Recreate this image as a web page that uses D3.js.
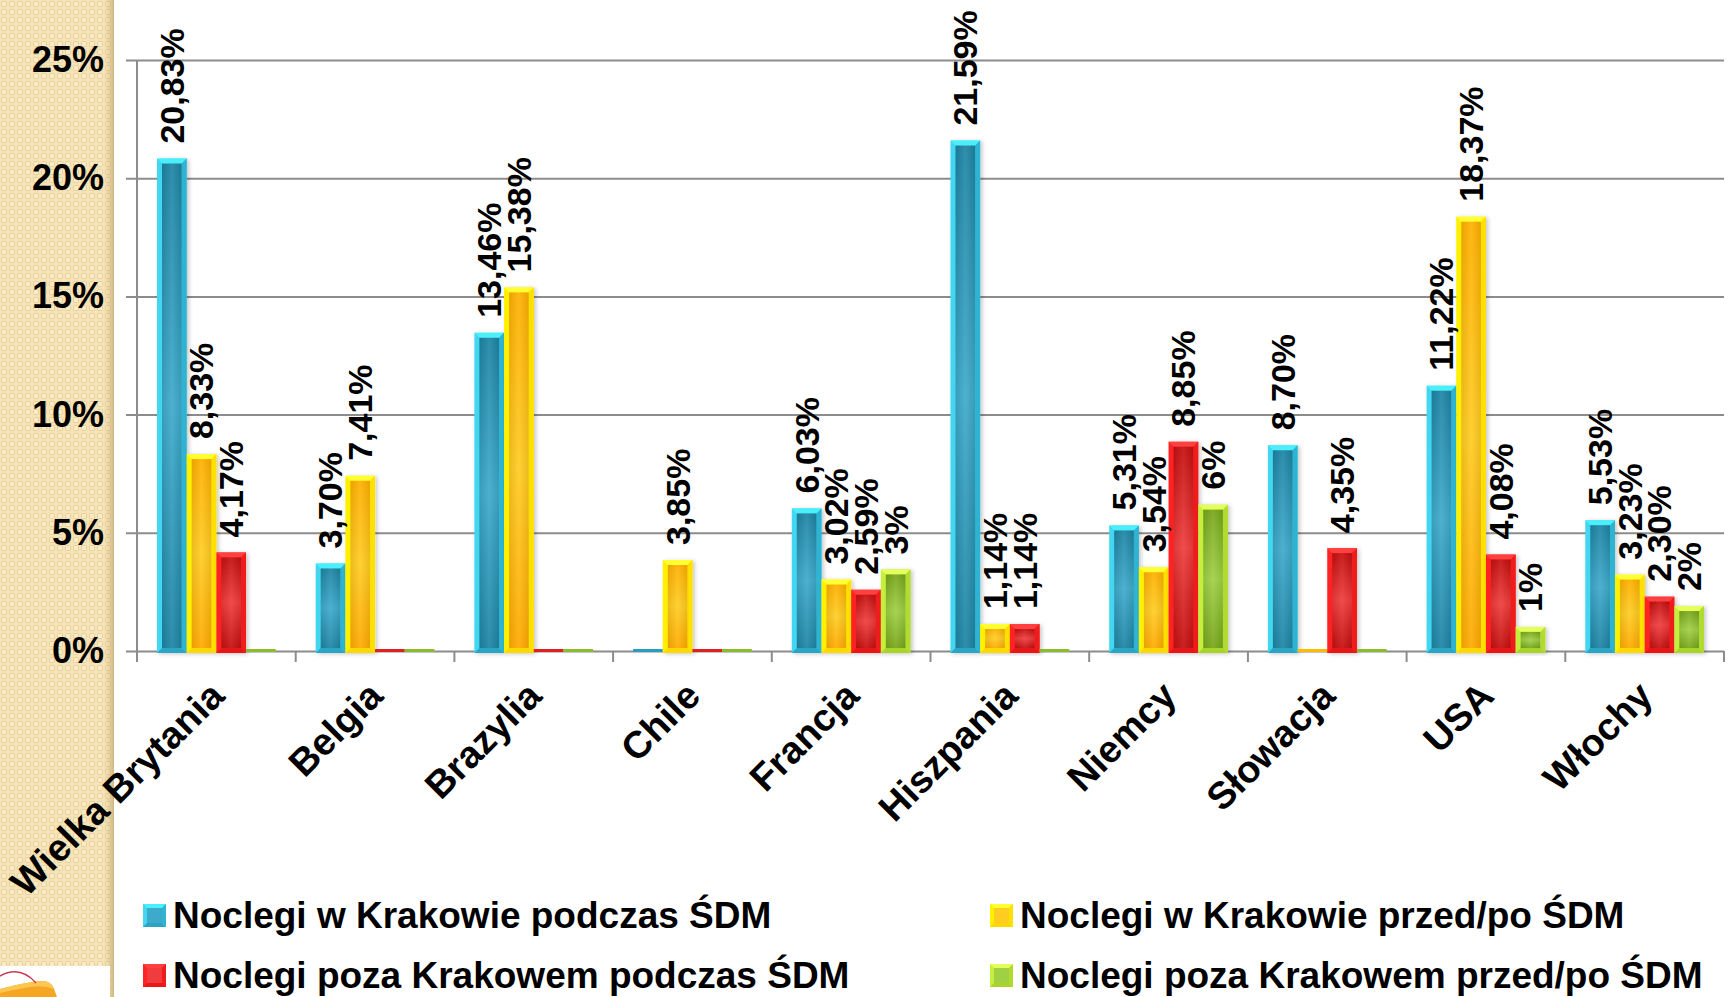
<!DOCTYPE html>
<html>
<head>
<meta charset="utf-8">
<script src="https://cdn.jsdelivr.net/npm/d3@7"></script>
<style>
html,body{margin:0;padding:0;background:#fff;}
svg{display:block;}
text{font-family:"Liberation Sans",Arial,sans-serif;font-weight:bold;fill:#000;}
</style>
</head>
<body>
<script>
const categories = ["Wielka Brytania","Belgia","Brazylia","Chile","Francja","Hiszpania","Niemcy","Słowacja","USA","Włochy"];
const seriesNames = ["Noclegi w Krakowie podczas ŚDM","Noclegi w Krakowie przed/po ŚDM","Noclegi poza Krakowem podczas ŚDM","Noclegi poza Krakowem przed/po ŚDM"];
const inKrakowDuring      = [20.83, 3.70, 13.46, 0,    6.03, 21.59, 5.31, 8.70, 11.22, 5.53];
const inKrakowBeforeAfter = [8.33,  7.41, 15.38, 3.85, 3.02, 1.14,  3.54, 0,    18.37, 3.23];
const outsideDuring       = [4.17,  0,    0,     0,    2.59, 1.14,  8.85, 4.35, 4.08,  2.30];
const outsideBeforeAfter  = [0,     0,    0,     0,    3.45, 0,     6.19, 0,    1.02,  1.9];
const labelDecimals = [2, 2, 2, 0];
const yTicks = [0, 5, 10, 15, 20, 25];

const seriesValues = [inKrakowDuring, inKrakowBeforeAfter, outsideDuring, outsideBeforeAfter];
const palette = [
  {bevTop:"#48f0fa", bevL:"#42d6f0", bevR:"#2fb4d2", bevB:"#2aa6c4", g0:"#1d84a3", g1:"#3eaacb", g2:"#1d84a3", flat:"#2a9cc0"},
  {bevTop:"#ffff30", bevL:"#fff000", bevR:"#ffe000", bevB:"#ffd800", g0:"#ffb000", g1:"#ffcc22", g2:"#ffaa00", flat:"#ffbb00"},
  {bevTop:"#ff4040", bevL:"#ff2424", bevR:"#f01c1c", bevB:"#e81818", g0:"#c40e0e", g1:"#f03c3c", g2:"#c40e0e", flat:"#e02020"},
  {bevTop:"#e4ff5a", bevL:"#c6ee3c", bevR:"#b0dc30", bevB:"#a8d42c", g0:"#76a61a", g1:"#a0d044", g2:"#76a61a", flat:"#8cbc2c"}
];

const W = 1731, H = 997;
const svg = d3.select("body").append("svg").attr("width", W).attr("height", H);
const defs = svg.append("defs");

// beige panel pattern
const pat = defs.append("pattern").attr("id","beige").attr("patternUnits","userSpaceOnUse")
  .attr("width",8).attr("height",8);
pat.append("rect").attr("width",8).attr("height",8).attr("fill","#f6e3b6");
pat.append("rect").attr("x",1.5).attr("y",1.5).attr("width",5).attr("height",5).attr("rx",1)
  .attr("fill","#f9ebc6").attr("stroke","#e6cf9c").attr("stroke-width",1);
const edge = defs.append("linearGradient").attr("id","edge").attr("x1",0).attr("x2",1).attr("y1",0).attr("y2",0);
edge.append("stop").attr("offset",0).attr("stop-color","#d9c088").attr("stop-opacity",0);
edge.append("stop").attr("offset",1).attr("stop-color","#cdb37c").attr("stop-opacity",0.9);

palette.forEach((p,i)=>{
  const g = defs.append("linearGradient").attr("id","g"+i).attr("x1",0).attr("x2",0).attr("y1",0).attr("y2",1);
  g.append("stop").attr("offset",0).attr("stop-color",p.g0);
  g.append("stop").attr("offset",0.5).attr("stop-color",p.g1);
  g.append("stop").attr("offset",1).attr("stop-color",p.g2);
  const gh = defs.append("linearGradient").attr("id","gh"+i).attr("x1",0).attr("x2",1).attr("y1",0).attr("y2",0);
  gh.append("stop").attr("offset",0).attr("stop-color","#000").attr("stop-opacity",0.08);
  gh.append("stop").attr("offset",0.5).attr("stop-color","#fff").attr("stop-opacity",0.08);
  gh.append("stop").attr("offset",1).attr("stop-color","#000").attr("stop-opacity",0.08);
});
const sh = defs.append("filter").attr("id","shadow").attr("x","-30%").attr("y","-10%").attr("width","160%").attr("height","120%");
sh.append("feDropShadow").attr("dx",2).attr("dy",1).attr("stdDeviation",2).attr("flood-color","#000").attr("flood-opacity",0.22);

svg.append("rect").attr("x",0).attr("y",0).attr("width",W).attr("height",H).attr("fill","#fff");
svg.append("rect").attr("x",0).attr("y",0).attr("width",114).attr("height",H).attr("fill","url(#beige)");
svg.append("rect").attr("x",104).attr("y",0).attr("width",10).attr("height",H).attr("fill","url(#edge)");

// logo fragment bottom-left
const logo = svg.append("g");
logo.append("rect").attr("x",0).attr("y",966).attr("width",110).attr("height",31).attr("fill","#fff");
logo.append("path").attr("d","M0,989 Q22,983 40,981 Q51,980 54,989 L57,997 L0,997 Z").attr("fill","#f5a623");
logo.append("path").attr("d","M0,989 Q22,983 40,981 Q51,980 54,989 Q44,985 30,987 Q12,990 0,993 Z").attr("fill","#fcc650");
logo.append("path").attr("d","M0,976 Q20,965 36,983").attr("fill","none").attr("stroke","#c83a52").attr("stroke-width",1.5);

// scales
const axisX = 137, plotRight = 1724, y0 = 651, yTop = 60;
const x0 = d3.scaleBand().domain(categories).range([axisX, plotRight]).padding(0);
const bw = x0.bandwidth();
const x1 = d3.scaleBand().domain(d3.range(4)).range([20, bw - 20]).padding(0);
const y = d3.scaleLinear().domain([0, 25]).range([y0, yTop]);

// gridlines + y labels
const yAxis = d3.axisLeft(y).tickValues(yTicks).tickSizeInner(-(plotRight - 126)).tickSizeOuter(0)
  .tickPadding(22).tickFormat(d => d + "%");
const gy = svg.append("g").attr("transform", `translate(126,0)`).call(yAxis);
gy.select(".domain").remove();
gy.selectAll(".tick line").attr("stroke","#8c8c8c").attr("stroke-width",2);
gy.selectAll(".tick text").attr("font-size",36).attr("font-family","Liberation Sans, Arial, sans-serif")
  .attr("font-weight","bold").attr("fill","#000");

// y axis line
svg.append("line").attr("x1",axisX).attr("x2",axisX).attr("y1",y(25)).attr("y2",y0+11)
  .attr("stroke","#8c8c8c").attr("stroke-width",2);
// x ticks at category boundaries
const bounds = categories.map(c => x0(c)).concat([x0(categories[categories.length-1]) + bw]);
svg.append("g").selectAll("line").data(bounds).join("line")
  .attr("x1",d=>d).attr("x2",d=>d).attr("y1",y0).attr("y2",y0+11)
  .attr("stroke","#8c8c8c").attr("stroke-width",2);

// bars
const barsG = svg.append("g");
seriesValues.forEach((vals, si) => {
  const p = palette[si];
  vals.forEach((v, ci) => {
    const bx = x0(categories[ci]) + x1(si);
    const w = x1.bandwidth();
    const top = y(v);
    const h = y0 - top;
    const g = barsG.append("g");
    if (h < 4) {
      g.append("rect").attr("x",bx).attr("y",y0-2).attr("width",w).attr("height",3).attr("fill",p.flat);
      return;
    }
    g.attr("filter","url(#shadow)");
    const b = Math.min(5, h/2);
    const x2 = bx + w, yb = y0 + 2;
    g.append("rect").attr("x",bx).attr("y",top).attr("width",w).attr("height",yb-top).attr("fill",p.bevL);
    g.append("path").attr("d",`M${bx},${top} L${x2},${top} L${x2-b},${top+b} L${bx+b},${top+b} Z`).attr("fill",p.bevTop);
    g.append("path").attr("d",`M${x2},${top} L${x2},${yb} L${x2-b},${yb-b} L${x2-b},${top+b} Z`).attr("fill",p.bevR);
    g.append("path").attr("d",`M${bx},${yb} L${x2},${yb} L${x2-b},${yb-b} L${bx+b},${yb-b} Z`).attr("fill",p.bevB);
    g.append("rect").attr("x",bx+b).attr("y",top+b).attr("width",w-2*b).attr("height",Math.max(0,yb-top-2*b)).attr("fill",`url(#g${si})`);
    g.append("rect").attr("x",bx+b).attr("y",top+b).attr("width",w-2*b).attr("height",Math.max(0,yb-top-2*b)).attr("fill",`url(#gh${si})`);
  });
});

// data labels
const labelsG = svg.append("g");
seriesValues.forEach((vals, si) => {
  vals.forEach((v, ci) => {
    if (v === 0) return;
    const cx = x0(categories[ci]) + x1(si) + x1.bandwidth()/2;
    labelsG.append("text")
      .attr("transform", `translate(${cx},${y(v) - 15}) rotate(-90)`)
      .attr("dy","0.35em").attr("text-anchor","start").attr("font-size",34)
      .text(v.toFixed(labelDecimals[si]).replace(".", ",") + "%");
  });
});

// category labels
svg.append("g").selectAll("text").data(categories).join("text")
  .attr("transform", d => `translate(${x0(d) + bw/2 + 10},${y0 + 47}) rotate(-45)`)
  .attr("text-anchor","end").attr("font-size",38).text(d => d);

// legend
const legendPos = [[143, 928], [990, 928], [143, 988], [990, 988]];
const leg = svg.append("g");
seriesNames.forEach((name, si) => {
  const [lx, ly] = legendPos[si];
  const p = palette[si];
  const s = 23, b = 4, my = ly - 24;
  const g = leg.append("g");
  g.append("rect").attr("x",lx).attr("y",my).attr("width",s).attr("height",s).attr("fill",p.bevL);
  g.append("path").attr("d",`M${lx},${my} L${lx+s},${my} L${lx+s-b},${my+b} L${lx+b},${my+b} Z`).attr("fill",p.bevTop);
  g.append("path").attr("d",`M${lx+s},${my} L${lx+s},${my+s} L${lx+s-b},${my+s-b} L${lx+s-b},${my+b} Z`).attr("fill",p.bevR);
  g.append("path").attr("d",`M${lx},${my+s} L${lx+s},${my+s} L${lx+s-b},${my+s-b} L${lx+b},${my+s-b} Z`).attr("fill",p.bevB);
  g.append("rect").attr("x",lx+b).attr("y",my+b).attr("width",s-2*b).attr("height",s-2*b).attr("fill",p.g1);
  leg.append("text").attr("x",lx + 30).attr("y",ly).attr("font-size",37).text(name);
});
</script>
</body>
</html>
